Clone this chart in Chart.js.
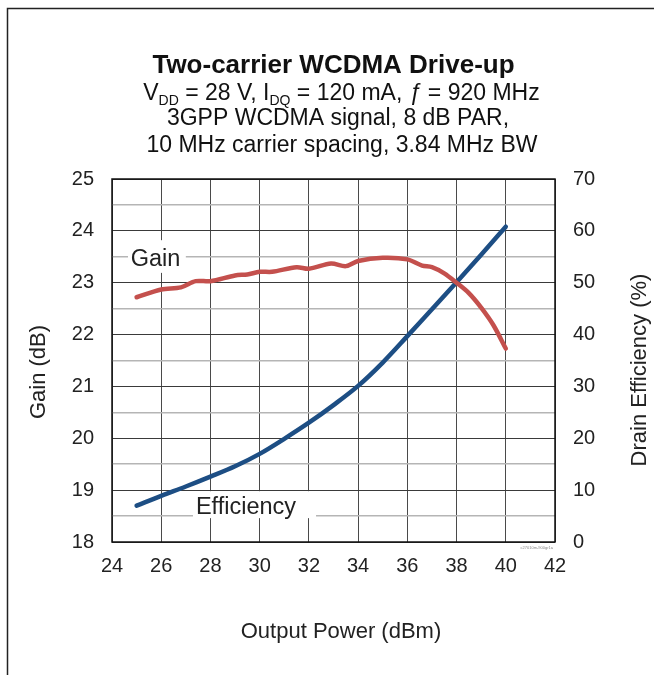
<!DOCTYPE html>
<html>
<head>
<meta charset="utf-8">
<script src="https://cdn.jsdelivr.net/npm/chart.js@4.4.1/dist/chart.umd.min.js"></script>
<style>
  html, body { margin: 0; padding: 0; background: #fff; }
  #wrap { width: 654px; height: 675px; }
</style>
</head>
<body>
<div id="wrap"><canvas id="myChart" width="654" height="675"></canvas></div>
<script>
// Données
const gainPower = [25, 26, 26.8, 27.4, 28, 29, 29.5, 30, 30.5, 31.5, 32, 32.9, 33.5, 34, 35, 36, 36.6, 37, 37.5, 38, 38.5, 39, 39.5, 40];
const gainValues = [22.72, 22.87, 22.91, 23.03, 23.03, 23.14, 23.16, 23.21, 23.21, 23.30, 23.27, 23.37, 23.32, 23.42, 23.48, 23.45, 23.33, 23.30, 23.18, 23.00, 22.80, 22.52, 22.18, 21.73];
const effPower = [25, 26, 27, 28, 29, 30, 31, 32, 33, 34, 35, 36, 37, 38, 39, 40];
const effValues = [7.0, 8.9, 10.7, 12.6, 14.6, 17.0, 19.9, 23.0, 26.4, 30.1, 34.6, 39.7, 44.9, 50.1, 55.4, 60.8];
const xTicks = [24, 26, 28, 30, 32, 34, 36, 38, 40, 42];
const gainTicks = [18, 19, 20, 21, 22, 23, 24, 25];
const effTicks = [0, 10, 20, 30, 40, 50, 60, 70];

const FONT = "'Liberation Sans', Arial, Helvetica, sans-serif";
const RED = "#C4504D";
const BLUE = "#1D4E84";

function toPoints(xs, ys) {
  return xs.map((x, i) => ({ x: x, y: ys[i] }));
}

// Titre, étiquettes et cadre
const decor = {
  id: "decor",
  beforeDatasetsDraw(chart) {
    const { ctx, scales } = chart;
    const x = scales.x, y = scales.y;
    ctx.save();
    ctx.fillStyle = "#fff";
    // boîte "Gain"
    ctx.fillRect(x.getPixelForValue(24.65), y.getPixelForValue(23.82),
      x.getPixelForValue(27.0) - x.getPixelForValue(24.65), y.getPixelForValue(23.19) - y.getPixelForValue(23.82));
    // boîte "Efficiency"
    ctx.fillRect(x.getPixelForValue(27.29), y.getPixelForValue(18.98),
      x.getPixelForValue(32.29) - x.getPixelForValue(27.29), y.getPixelForValue(18.46) - y.getPixelForValue(18.98));
    ctx.fillStyle = "#222";
    ctx.font = "23.5px " + FONT;
    ctx.textAlign = "left";
    ctx.textBaseline = "alphabetic";
    ctx.fillText("Gain", x.getPixelForValue(24.76), y.getPixelForValue(23.32));
    ctx.fillText("Efficiency", x.getPixelForValue(27.41), y.getPixelForValue(18.54));
    ctx.restore();
  },
  afterDraw(chart) {
    const { ctx, chartArea } = chart;
    ctx.save();
    // cadre extérieur
    ctx.strokeStyle = "#222";
    ctx.lineWidth = 1.5;
    ctx.beginPath();
    ctx.moveTo(7.5, 700);
    ctx.lineTo(7.5, 8.5);
    ctx.lineTo(700, 8.5);
    ctx.stroke();
    // bordure de la zone de tracé
    ctx.strokeStyle = "#111";
    ctx.lineWidth = 1.5;
    ctx.strokeRect(chartArea.left, chartArea.top, chartArea.right - chartArea.left, chartArea.bottom - chartArea.top);

    ctx.fillStyle = "#111";
    ctx.textBaseline = "alphabetic";
    ctx.textAlign = "center";
    ctx.font = "bold 26px " + FONT;
    ctx.fillText("Two-carrier WCDMA Drive-up", 333.5, 73);

    // ligne avec indices
    const parts = [
      ["V", "n"], ["DD", "s"], [" = 28 V, I", "n"], ["DQ", "s"], [" = 120 mA, ", "n"], ["\u0192", "i"], [" = 920 MHz", "n"]
    ];
    const fonts = { n: "23px " + FONT, s: "14px " + FONT, i: "italic 23px " + FONT };
    let total = 0;
    parts.forEach(p => { ctx.font = fonts[p[1]]; total += ctx.measureText(p[0]).width; });
    let cx = 341.5 - total / 2;
    ctx.textAlign = "left";
    parts.forEach(p => {
      ctx.font = fonts[p[1]];
      ctx.fillText(p[0], cx, p[1] === "s" ? 104.5 : 100);
      cx += ctx.measureText(p[0]).width;
    });
    ctx.textAlign = "center";
    ctx.font = "23px " + FONT;
    ctx.fillText("3GPP WCDMA signal, 8 dB PAR,", 338, 125);
    ctx.fillText("10 MHz carrier spacing, 3.84 MHz BW", 342, 151.5);

    // titres des axes
    ctx.font = "22px " + FONT;
    ctx.fillStyle = "#222";
    ctx.fillText("Output Power (dBm)", 341, 638);
    ctx.save();
    ctx.translate(45, 372);
    ctx.rotate(-Math.PI / 2);
    ctx.fillText("Gain (dB)", 0, 0);
    ctx.restore();
    ctx.save();
    ctx.translate(646, 370);
    ctx.rotate(-Math.PI / 2);
    ctx.fillText("Drain Efficiency (%)", 0, 0);
    ctx.restore();

    // petite référence
    ctx.font = "4px " + FONT;
    ctx.fillStyle = "#888";
    ctx.textAlign = "right";
    ctx.fillText("c27010m-900gr1a", chartArea.right - 2, chartArea.bottom + 7);
    ctx.restore();
  }
};

const ctx = document.getElementById("myChart").getContext("2d");
window.myChart = new Chart(ctx, {
  type: "line",
  data: {
    datasets: [
      {
        label: "Gain",
        data: toPoints(gainPower, gainValues),
        yAxisID: "y",
        borderColor: RED,
        borderWidth: 4.5,
        borderCapStyle: "round",
        borderJoinStyle: "round",
        pointRadius: 0,
        tension: 0.3,
      },
      {
        label: "Efficiency",
        data: toPoints(effPower, effValues),
        yAxisID: "y1",
        borderColor: BLUE,
        borderWidth: 4.5,
        borderCapStyle: "round",
        borderJoinStyle: "round",
        pointRadius: 0,
        cubicInterpolationMode: "monotone",
      },
    ],
  },
  options: {
    responsive: false,
    animation: false,
    devicePixelRatio: 1,
    layout: { padding: { top: 179, left: 0, right: 0, bottom: 0 } },
    plugins: { legend: { display: false }, tooltip: { enabled: false }, title: { display: false } },
    scales: {
      x: {
        type: "linear",
        min: xTicks[0],
        max: xTicks[xTicks.length - 1],
        afterBuildTicks: (s) => { s.ticks = xTicks.map(v => ({ value: v })); },
        afterFit: (s) => { s.height = 133; },
        ticks: { font: { family: FONT, size: 20 }, color: "#222", padding: 12, autoSkip: false, maxRotation: 0 },
        grid: { color: "#4a4a4a", lineWidth: 1, drawTicks: false },
        border: { display: false },
      },
      y: {
        min: gainTicks[0],
        max: gainTicks[gainTicks.length - 1],
        afterBuildTicks: (s) => {
          const t = [];
          for (let i = 0; i < gainTicks.length; i++) {
            t.push({ value: gainTicks[i] });
            if (i < gainTicks.length - 1) t.push({ value: gainTicks[i] + 0.5 });
          }
          s.ticks = t;
        },
        afterFit: (s) => { s.width = 112; },
        ticks: {
          font: { family: FONT, size: 20 }, color: "#222", padding: 18, autoSkip: false,
          callback: (v) => (Number.isInteger(v) ? v : ""),
        },
        grid: {
          drawTicks: false,
          color: (c) => (Number.isInteger(c.tick.value) ? "#3a3a3a" : "#b5b5b5"),
          lineWidth: (c) => (Number.isInteger(c.tick.value) ? 1 : 1.5),
        },
        border: { display: false },
      },
      y1: {
        position: "right",
        min: effTicks[0],
        max: effTicks[effTicks.length - 1],
        afterBuildTicks: (s) => { s.ticks = effTicks.map(v => ({ value: v })); },
        afterFit: (s) => { s.width = 99; },
        ticks: { font: { family: FONT, size: 20 }, color: "#222", padding: 18, autoSkip: false },
        grid: { display: false, drawTicks: false },
        border: { display: false },
      },
    },
  },
  plugins: [decor],
});
</script>
</body>
</html>
